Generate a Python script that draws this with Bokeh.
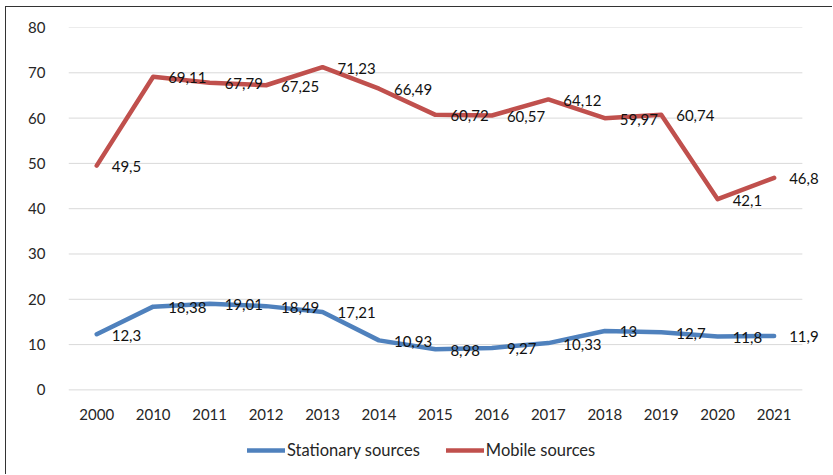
from bokeh.plotting import figure
from bokeh.models import Range1d, Legend, LegendItem, ColumnDataSource, LabelSet, FixedTicker
from bokeh.core.properties import value
from bokeh.embed import file_html
from bokeh.resources import INLINE

years = ["2000", "2010", "2011", "2012", "2013", "2014", "2015", "2016", "2017", "2018", "2019", "2020", "2021"]
stationary = [12.3, 18.38, 19.01, 18.49, 17.21, 10.93, 8.98, 9.27, 10.33, 13, 12.7, 11.8, 11.9]
mobile = [49.5, 69.11, 67.79, 67.25, 71.23, 66.49, 60.72, 60.57, 64.12, 59.97, 60.74, 42.1, 46.8]
y_ticks = [0, 10, 20, 30, 40, 50, 60, 70, 80]

def fmt(v):
    return ("%g" % v).replace(".", ",")

FONT = "Lato"
BLUE = "#4F81BD"
RED = "#C0504D"

n = len(years)
xs = [i + 0.5 for i in range(n)]

p = figure(width=827, height=468, x_range=Range1d(0, n + 0.41),
           y_range=Range1d(-18.9, 80), output_backend="svg", toolbar_location=None,
           min_border_left=62, min_border_right=8, min_border_top=20, min_border_bottom=0)
p.styles = {"margin-left": "5px", "margin-top": "6px",
            "border-left": "1px solid #333333", "border-top": "1px solid #333333"}
p.outline_line_color = None
p.background_fill_color = "white"

p.xgrid.grid_line_color = None
p.ygrid.grid_line_color = None
p.segment(x0=0, x1=n, y0=y_ticks, y1=y_ticks, line_color="#D9D9D9", line_width=1)

p.yaxis.ticker = FixedTicker(ticks=y_ticks)
p.xaxis.ticker = FixedTicker(ticks=xs)
p.xaxis.fixed_location = 0
p.xaxis.major_label_overrides = {x: y for x, y in zip(xs, years)}
p.yaxis.axis_line_color = None
p.yaxis.major_tick_line_color = None
p.yaxis.minor_tick_line_color = None
p.yaxis.major_label_standoff = 17
p.xaxis.axis_line_color = None
p.xaxis.major_tick_line_color = None
p.xaxis.minor_tick_line_color = None
p.xaxis.major_label_standoff = 13
for ax in (p.xaxis, p.yaxis):
    ax.major_label_text_font = FONT
    ax.major_label_text_font_size = "15px"
    ax.major_label_text_color = "#262626"

src_s = ColumnDataSource(dict(x=xs, y=stationary, t=[fmt(v) for v in stationary]))
src_m = ColumnDataSource(dict(x=xs, y=mobile, t=[fmt(v) for v in mobile]))

r_s = p.line("x", "y", source=src_s, line_color=BLUE, line_width=4.5, line_join="round", line_cap="round")
r_m = p.line("x", "y", source=src_m, line_color=RED, line_width=4.5, line_join="round", line_cap="round")

for src in (src_s, src_m):
    lab = LabelSet(x="x", y="y", text="t", source=src, x_offset=15, y_offset=-1,
                   text_baseline="middle", text_align="left",
                   text_font=value(FONT), text_font_size="15px", text_color="#111111")
    p.add_layout(lab)

legend = Legend(items=[LegendItem(label="Stationary sources", renderers=[r_s]),
                       LegendItem(label="Mobile sources", renderers=[r_m])],
                orientation="horizontal", location=(179, 15), padding=0, margin=0,
                spacing=26, glyph_width=38, glyph_height=20, label_standoff=2,
                label_text_font=FONT, label_text_font_size="16.5px", label_text_color="#262626",
                border_line_color=None, background_fill_alpha=0)
p.add_layout(legend)

open("out.html", "w").write(file_html(p, INLINE))
